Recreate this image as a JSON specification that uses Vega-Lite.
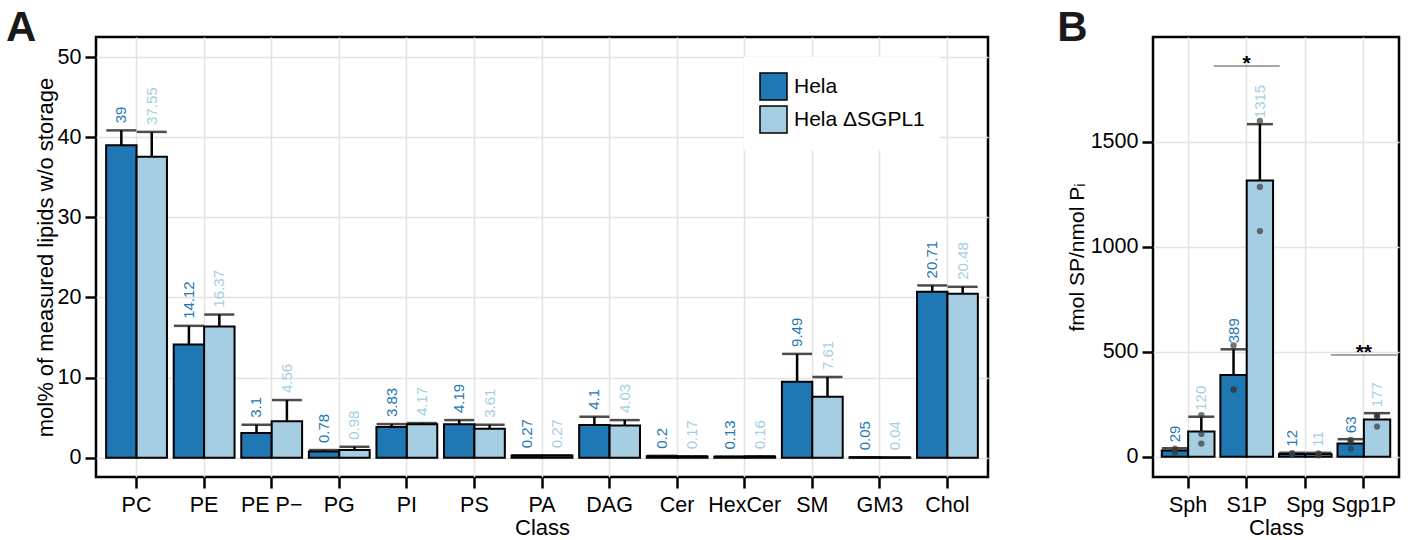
{
  "$schema": "https://vega.github.io/schema/vega-lite/v6.json",
  "padding": {"left": 4, "top": 5, "right": 2, "bottom": 0},
  "config": {
    "font": "Liberation Sans",
    "view": {"stroke": "black", "strokeWidth": 2.5},
    "axis": {
      "labelFont": "Liberation Sans", "titleFont": "Liberation Sans",
      "labelFontSize": 21.5, "titleFontSize": 22, "titleFontWeight": "normal",
      "labelColor": "black", "titleColor": "black",
      "tickColor": "black", "tickWidth": 2.5, "tickSize": 11,
      "domain": false, "grid": true, "gridColor": "#e3e3e3", "gridWidth": 1.5,
      "labelPadding": 4
    }
  },
  "datasets": {
    "a": [
      {"Class": "PC", "Cell": "Hela", "mean": 39, "upper": 40.85},
      {"Class": "PC", "Cell": "Hela ΔSGPL1", "mean": 37.55, "upper": 40.66},
      {"Class": "PE", "Cell": "Hela", "mean": 14.12, "upper": 16.46},
      {"Class": "PE", "Cell": "Hela ΔSGPL1", "mean": 16.37, "upper": 17.87},
      {"Class": "PE P−", "Cell": "Hela", "mean": 3.1, "upper": 4.12},
      {"Class": "PE P−", "Cell": "Hela ΔSGPL1", "mean": 4.56, "upper": 7.2},
      {"Class": "PG", "Cell": "Hela", "mean": 0.78, "upper": 0.96},
      {"Class": "PG", "Cell": "Hela ΔSGPL1", "mean": 0.98, "upper": 1.37},
      {"Class": "PI", "Cell": "Hela", "mean": 3.83, "upper": 4.2},
      {"Class": "PI", "Cell": "Hela ΔSGPL1", "mean": 4.17, "upper": 4.33},
      {"Class": "PS", "Cell": "Hela", "mean": 4.19, "upper": 4.7},
      {"Class": "PS", "Cell": "Hela ΔSGPL1", "mean": 3.61, "upper": 4.12},
      {"Class": "PA", "Cell": "Hela", "mean": 0.27, "upper": 0.3},
      {"Class": "PA", "Cell": "Hela ΔSGPL1", "mean": 0.27, "upper": 0.3},
      {"Class": "DAG", "Cell": "Hela", "mean": 4.1, "upper": 5.12},
      {"Class": "DAG", "Cell": "Hela ΔSGPL1", "mean": 4.03, "upper": 4.7},
      {"Class": "Cer", "Cell": "Hela", "mean": 0.2, "upper": 0.24},
      {"Class": "Cer", "Cell": "Hela ΔSGPL1", "mean": 0.17, "upper": 0.19},
      {"Class": "HexCer", "Cell": "Hela", "mean": 0.13, "upper": 0.15},
      {"Class": "HexCer", "Cell": "Hela ΔSGPL1", "mean": 0.16, "upper": 0.18},
      {"Class": "SM", "Cell": "Hela", "mean": 9.49, "upper": 12.96},
      {"Class": "SM", "Cell": "Hela ΔSGPL1", "mean": 7.61, "upper": 10.08},
      {"Class": "GM3", "Cell": "Hela", "mean": 0.05, "upper": 0.06},
      {"Class": "GM3", "Cell": "Hela ΔSGPL1", "mean": 0.04, "upper": 0.05},
      {"Class": "Chol", "Cell": "Hela", "mean": 20.71, "upper": 21.5},
      {"Class": "Chol", "Cell": "Hela ΔSGPL1", "mean": 20.48, "upper": 21.33}
    ],
    "b": [
      {"Class": "Sph", "Cell": "Hela", "mean": 29, "upper": 40},
      {"Class": "Sph", "Cell": "Hela ΔSGPL1", "mean": 120, "upper": 190},
      {"Class": "S1P", "Cell": "Hela", "mean": 389, "upper": 511},
      {"Class": "S1P", "Cell": "Hela ΔSGPL1", "mean": 1315, "upper": 1583},
      {"Class": "Spg", "Cell": "Hela", "mean": 12, "upper": 19},
      {"Class": "Spg", "Cell": "Hela ΔSGPL1", "mean": 11, "upper": 18},
      {"Class": "Sgp1P", "Cell": "Hela", "mean": 63, "upper": 83},
      {"Class": "Sgp1P", "Cell": "Hela ΔSGPL1", "mean": 177, "upper": 207}
    ],
    "bpts": [
      {"Class": "Sph", "Cell": "Hela", "value": 19},
      {"Class": "Sph", "Cell": "Hela", "value": 30},
      {"Class": "Sph", "Cell": "Hela", "value": 38},
      {"Class": "Sph", "Cell": "Hela ΔSGPL1", "value": 198},
      {"Class": "Sph", "Cell": "Hela ΔSGPL1", "value": 108},
      {"Class": "Sph", "Cell": "Hela ΔSGPL1", "value": 62},
      {"Class": "S1P", "Cell": "Hela", "value": 529},
      {"Class": "S1P", "Cell": "Hela", "value": 320},
      {"Class": "S1P", "Cell": "Hela", "value": 318},
      {"Class": "S1P", "Cell": "Hela ΔSGPL1", "value": 1598},
      {"Class": "S1P", "Cell": "Hela ΔSGPL1", "value": 1284},
      {"Class": "S1P", "Cell": "Hela ΔSGPL1", "value": 1074},
      {"Class": "Spg", "Cell": "Hela", "value": 12},
      {"Class": "Spg", "Cell": "Hela", "value": 8},
      {"Class": "Spg", "Cell": "Hela", "value": 16},
      {"Class": "Spg", "Cell": "Hela ΔSGPL1", "value": 11},
      {"Class": "Spg", "Cell": "Hela ΔSGPL1", "value": 7},
      {"Class": "Spg", "Cell": "Hela ΔSGPL1", "value": 15},
      {"Class": "Sgp1P", "Cell": "Hela", "value": 79},
      {"Class": "Sgp1P", "Cell": "Hela", "value": 38},
      {"Class": "Sgp1P", "Cell": "Hela", "value": 72},
      {"Class": "Sgp1P", "Cell": "Hela ΔSGPL1", "value": 194},
      {"Class": "Sgp1P", "Cell": "Hela ΔSGPL1", "value": 143},
      {"Class": "Sgp1P", "Cell": "Hela ΔSGPL1", "value": 194}
    ],
    "sig": [
      {"Class": "S1P", "y": 1860, "label": "*"},
      {"Class": "Sgp1P", "y": 484, "label": "**"}
    ]
  },
  "resolve": {
    "scale": {"x": "independent", "y": "independent", "xOffset": "independent", "fill": "independent", "color": "independent"},
    "legend": {"fill": "independent", "color": "independent"}
  },
  "spacing": 65,
  "hconcat": [
    {
      "width": 892,
      "height": 440,
      "title": {"text": "A", "anchor": "start", "frame": "bounds", "fontSize": 42, "fontWeight": "bold", "color": "#1a1a1a", "offset": -46, "baseline": "alphabetic", "dx": -28},
      "data": {"name": "a"},
      "encoding": {
        "x": {
          "field": "Class", "type": "nominal",
          "sort": ["PC", "PE", "PE P−", "PG", "PI", "PS", "PA", "DAG", "Cer", "HexCer", "SM", "GM3", "Chol"],
          "scale": {"paddingInner": 0, "paddingOuter": 0.1},
          "axis": {"labelAngle": 0, "title": "Class", "titlePadding": 2, "labelPadding": 6}
        },
        "xOffset": {"field": "Cell", "type": "nominal", "sort": ["Hela", "Hela ΔSGPL1"], "scale": {"paddingInner": 0, "paddingOuter": 0.111}}
      },
      "layer": [
        {
          "mark": {"type": "bar", "stroke": "black", "strokeWidth": 2},
          "encoding": {
            "y": {"field": "mean", "type": "quantitative", "scale": {"domain": [-2.4, 52.5], "nice": false, "zero": false}, "axis": {"values": [0, 10, 20, 30, 40, 50], "title": "mol% of measured lipids w/o storage", "titlePadding": 0}},
            "fill": {"field": "Cell", "type": "nominal", "scale": {"domain": ["Hela", "Hela ΔSGPL1"], "range": ["#1f78b4", "#a6cee3"]},
              "legend": {"title": null, "orient": "none", "legendX": 648, "legendY": 20, "fillColor": "white", "padding": 15, "symbolType": "square", "symbolSize": 729, "symbolStrokeColor": "black", "symbolStrokeWidth": 1.5, "symbolOpacity": 1, "labelFontSize": 21, "labelColor": "black", "rowPadding": 0, "labelOffset": 6}}
          }
        },
        {
          "mark": {"type": "rule", "color": "black", "strokeWidth": 2.5},
          "encoding": {
            "y": {"field": "mean", "type": "quantitative"},
            "y2": {"field": "upper"}
          }
        },
        {
          "mark": {"type": "tick", "color": "black", "thickness": 2.5, "size": 30, "orient": "horizontal"},
          "encoding": {"y": {"field": "upper", "type": "quantitative"}}
        },
        {
          "mark": {"type": "text", "angle": 270, "align": "left", "baseline": "middle", "dx": 7, "fontSize": 15},
          "encoding": {
            "y": {"field": "upper", "type": "quantitative"},
            "text": {"field": "mean", "type": "nominal"},
            "color": {"field": "Cell", "type": "nominal", "scale": {"domain": ["Hela", "Hela ΔSGPL1"], "range": ["#1f78b4", "#a6cee3"]}, "legend": null}
          }
        }
      ]
    },
    {
      "width": 246,
      "height": 440,
      "title": {"text": "B", "anchor": "start", "frame": "bounds", "fontSize": 42, "fontWeight": "bold", "color": "#1a1a1a", "offset": -46, "baseline": "alphabetic", "dx": -9},
      "encoding": {
        "x": {
          "field": "Class", "type": "nominal",
          "sort": ["Sph", "S1P", "Spg", "Sgp1P"],
          "scale": {"paddingInner": 0, "paddingOuter": 0.1},
          "axis": {"labelAngle": 0, "title": "Class", "titlePadding": 2, "labelPadding": 6}
        }
      },
      "layer": [
        {
          "data": {"name": "b"},
          "mark": {"type": "bar", "stroke": "black", "strokeWidth": 2},
          "encoding": {
            "xOffset": {"field": "Cell", "type": "nominal", "sort": ["Hela", "Hela ΔSGPL1"], "scale": {"paddingInner": 0, "paddingOuter": 0.111}},
            "y": {"field": "mean", "type": "quantitative", "scale": {"domain": [-97, 1998], "nice": false, "zero": false}, "axis": {"values": [0, 500, 1000, 1500], "format": "d", "title": "fmol SP/nmol Pᵢ", "titlePadding": 3, "titleFontSize": 21}},
            "fill": {"field": "Cell", "type": "nominal", "scale": {"domain": ["Hela", "Hela ΔSGPL1"], "range": ["#1f78b4", "#a6cee3"]}, "legend": null}
          }
        },
        {
          "data": {"name": "b"},
          "mark": {"type": "rule", "color": "black", "strokeWidth": 2.5},
          "encoding": {
            "xOffset": {"field": "Cell", "type": "nominal", "sort": ["Hela", "Hela ΔSGPL1"]},
            "y": {"field": "mean", "type": "quantitative"},
            "y2": {"field": "upper"}
          }
        },
        {
          "data": {"name": "b"},
          "mark": {"type": "tick", "color": "black", "thickness": 2.5, "size": 26, "orient": "horizontal"},
          "encoding": {
            "xOffset": {"field": "Cell", "type": "nominal", "sort": ["Hela", "Hela ΔSGPL1"]},
            "y": {"field": "upper", "type": "quantitative"}
          }
        },
        {
          "data": {"name": "bpts"},
          "mark": {"type": "circle", "size": 40, "color": "#3a3a3a", "opacity": 0.7},
          "encoding": {
            "xOffset": {"field": "Cell", "type": "nominal", "sort": ["Hela", "Hela ΔSGPL1"]},
            "y": {"field": "value", "type": "quantitative"}
          }
        },
        {
          "data": {"name": "b"},
          "mark": {"type": "text", "angle": 270, "align": "left", "baseline": "middle", "dx": 6, "fontSize": 15},
          "encoding": {
            "xOffset": {"field": "Cell", "type": "nominal", "sort": ["Hela", "Hela ΔSGPL1"]},
            "y": {"field": "upper", "type": "quantitative"},
            "text": {"field": "mean", "type": "nominal"},
            "color": {"field": "Cell", "type": "nominal", "scale": {"domain": ["Hela", "Hela ΔSGPL1"], "range": ["#1f78b4", "#a6cee3"]}, "legend": null}
          }
        },
        {
          "data": {"name": "sig"},
          "mark": {"type": "tick", "color": "black", "thickness": 1.2, "size": 66, "orient": "horizontal"},
          "encoding": {"y": {"field": "y", "type": "quantitative"}}
        },
        {
          "data": {"name": "sig"},
          "mark": {"type": "text", "fontSize": 21, "fontWeight": "bold", "baseline": "alphabetic", "dy": 4, "color": "black"},
          "encoding": {
            "y": {"field": "y", "type": "quantitative"},
            "text": {"field": "label", "type": "nominal"}
          }
        }
      ]
    }
  ]
}
